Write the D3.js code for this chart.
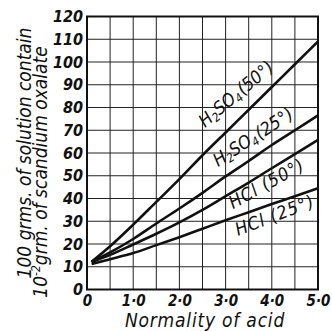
<!DOCTYPE html>
<html><head><meta charset="utf-8">
<script src="https://cdn.jsdelivr.net/npm/d3@7"></script>
<style>
html,body{margin:0;padding:0;background:#fff;}
svg text{font-family:"DejaVu Sans Condensed","Liberation Sans",sans-serif;font-style:italic;fill:#111;}
</style></head><body>
<svg id="c" width="332" height="331"></svg>
<script>
// ---- data ----
const normality = [0.1, 0.5, 1.0, 1.5, 2.0, 2.5, 3.0, 3.5, 4.0, 4.5, 5.0];
const h2so4_50 = [12.2, 19, 28.5, 38.5, 48.5, 59, 69, 79, 89, 99, 109];
const h2so4_25 = [12.2, 16.3, 22.2, 29, 35.6, 42.5, 49.7, 56.5, 63.5, 70, 76.5];
const hcl_50   = [12, 15.2, 19.8, 24.5, 29.5, 35, 41, 47, 53.3, 59.5, 65.8];
const hcl_25   = [11.2, 13.3, 16, 19.5, 23, 26.7, 30.4, 34, 37.6, 41, 44.5];
const xTickValues = [0, 1, 2, 3, 4, 5];
const xTickLabels = ["0", "1·0", "2·0", "3·0", "4·0", "5·0"];
const yTickValues = [0, 10, 20, 30, 40, 50, 60, 70, 80, 90, 100, 110, 120];
const seriesNames = ["H2SO4 (50°)", "H2SO4 (25°)", "HCl (50°)", "HCl (25°)"];
const seriesValues = [h2so4_50, h2so4_25, hcl_50, hcl_25];
// label anchor (data coords) for each series
const labelAnchorX = [2.554, 2.835, 3.160, 3.268];
const labelAnchorY = [71.0, 53.8, 35.3, 23.5];
const xTitle = "Normality of acid";
const yTitle1 = "100 grms. of solution contain";

// ---- layout ----
const labelAngles = [-40, -33, -29, -21];
const svg = d3.select("#c");
const x = d3.scaleLinear().domain([0, 5]).range([87, 318]);
const y = d3.scaleLinear().domain([0, 120]).range([289.5, 16.5]);

// grid
const g = svg.append("g");
g.selectAll("line.vx").data(d3.range(0, 5.01, 0.5)).join("line")
  .attr("x1", d => x(d)).attr("x2", d => x(d))
  .attr("y1", y(0)).attr("y2", y(120))
  .attr("stroke", "#222").attr("stroke-width", 1);
g.selectAll("line.hy").data(yTickValues).join("line")
  .attr("x1", x(0)).attr("x2", x(5))
  .attr("y1", d => y(d)).attr("y2", d => y(d))
  .attr("stroke", "#222").attr("stroke-width", 1);
g.append("rect").attr("x", x(0)).attr("y", y(120))
  .attr("width", x(5) - x(0)).attr("height", y(0) - y(120))
  .attr("fill", "none").attr("stroke", "#111").attr("stroke-width", 2);

// axes (labels only)
const xAxis = d3.axisBottom(x).tickValues(xTickValues)
  .tickFormat((d, i) => xTickLabels[i]).tickSize(0).tickPadding(0);
const xa = svg.append("g").attr("transform", `translate(0,${y(0)})`).call(xAxis);
xa.select(".domain").remove();
xa.selectAll("text").attr("font-size", 15).attr("font-weight", "bold")
  .attr("y", 16).attr("dy", 0);

const yAxis = d3.axisLeft(y).tickValues(yTickValues).tickSize(0).tickPadding(4);
const ya = svg.append("g").attr("transform", `translate(${x(0)},0)`).call(yAxis);
ya.select(".domain").remove();
ya.selectAll("text").attr("font-size", 16).attr("font-weight", "bold");

// lines
const line = d3.line().x((d, i) => x(normality[i])).y(d => y(d)).curve(d3.curveMonotoneX);
svg.selectAll("path.series").data(seriesValues).join("path")
  .attr("class", "series").attr("d", line)
  .attr("fill", "none").attr("stroke", "#111").attr("stroke-width", 2.6);

// series labels
seriesNames.forEach((name, i) => {
  const t = svg.append("text")
    .attr("transform", `translate(${x(labelAnchorX[i])},${y(labelAnchorY[i])}) rotate(${labelAngles[i]})`)
    .attr("font-size", 18);
  const m = name.match(/^H2SO4 (.*)$/);
  if (m) {
    t.append("tspan").text("H");
    t.append("tspan").text("2").attr("font-size", 12).attr("dy", 3);
    t.append("tspan").text("SO").attr("dy", -3);
    t.append("tspan").text("4").attr("font-size", 12).attr("dy", 3);
    t.append("tspan").text(m[1]).attr("dy", -3).attr("dx", 1);
  } else {
    t.attr("letter-spacing", 1).text(name);
  }
});

// axis titles
svg.append("text").attr("x", 205).attr("y", 327).attr("text-anchor", "middle")
  .attr("font-size", 19).attr("letter-spacing", 0.8).text(xTitle);
svg.append("text").attr("transform", "translate(31,153) rotate(-90)")
  .attr("text-anchor", "middle").attr("font-size", 19).text(yTitle1);
const yt2 = svg.append("text").attr("transform", "translate(47,172) rotate(-90)")
  .attr("text-anchor", "middle").attr("font-size", 19);
yt2.append("tspan").text("10");
yt2.append("tspan").text("-2").attr("font-size", 12).attr("dy", -7);
yt2.append("tspan").text("grm. of scandium oxalate").attr("dy", 7);
</script></body></html>
